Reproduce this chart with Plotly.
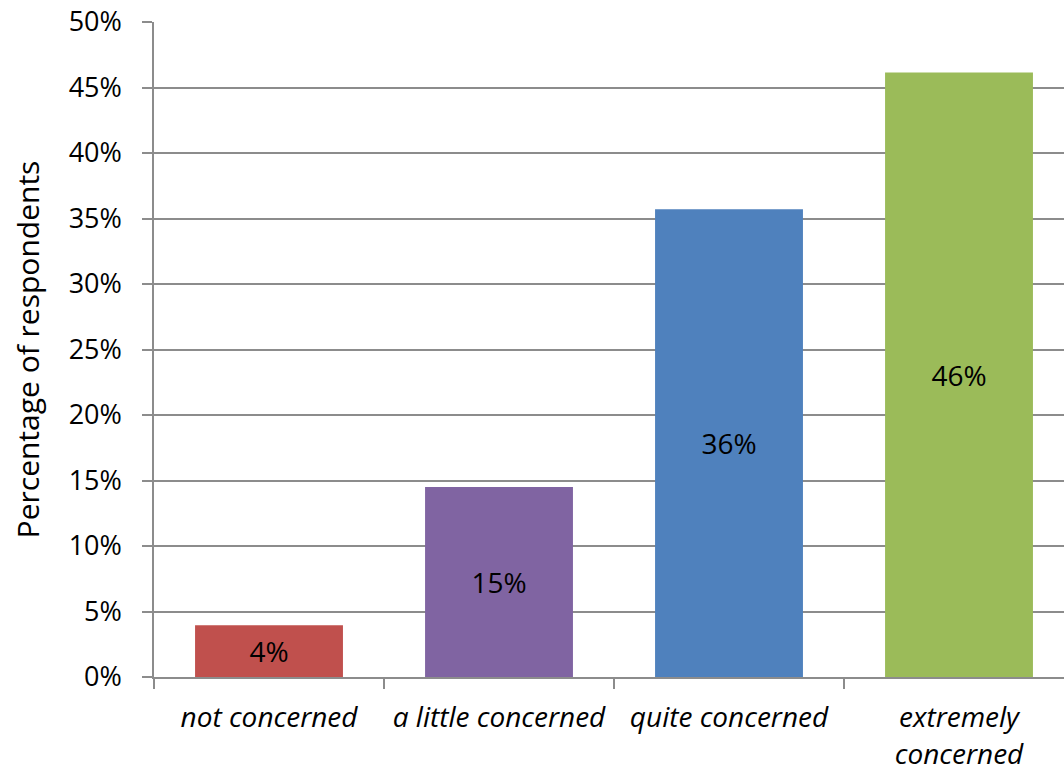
import plotly.graph_objects as go

categories = ["not concerned", "a little concerned", "quite concerned", "extremely<br>concerned"]
values = [3.95, 14.5, 35.7, 46.15]
value_labels = ["4%", "15%", "36%", "46%"]
colors = ["#C0504D", "#8064A2", "#4F81BD", "#9BBB59"]
y_title = "Percentage of respondents"

FONT = "Open Sans"
GRID = "#8c8c8c"

fig = go.Figure(
    go.Bar(
        x=categories,
        y=values,
        marker=dict(color=colors, line=dict(width=0)),
        width=0.643,
        text=value_labels,
        textposition="inside",
        insidetextanchor="middle",
        textangle=0,
        textfont=dict(family=FONT, size=28, color="black"),
        hoverinfo="skip",
    )
)

fig.update_layout(
    width=1064,
    height=771,
    margin=dict(l=154, r=0, t=22, b=94, autoexpand=False),
    paper_bgcolor="white",
    plot_bgcolor="white",
    showlegend=False,
    font=dict(family=FONT, size=28, color="black"),
    uniformtext=dict(mode=False),
)

fig.update_xaxes(
    type="category",
    range=[-0.5, 3.4565],
    tickson="boundaries",
    ticks="outside",
    ticklen=10,
    tickwidth=1.5,
    tickcolor=GRID,
    showline=True,
    linecolor=GRID,
    linewidth=1.5,
    showgrid=False,
    tickangle=0,
    automargin=False,
    tickfont=dict(family=FONT, size=28, color="black", style="italic"),
    ticklabelstandoff=15,
)

fig.update_yaxes(
    range=[0, 50],
    dtick=5,
    tick0=0,
    ticksuffix="%",
    ticks="outside",
    ticklen=10,
    tickwidth=1.5,
    tickcolor=GRID,
    showline=True,
    linecolor=GRID,
    linewidth=1.5,
    showgrid=True,
    gridcolor=GRID,
    gridwidth=1.5,
    zeroline=False,
    automargin=False,
    tickfont=dict(family=FONT, size=27, color="black"),
    ticklabelstandoff=15,
    title=dict(text=y_title, font=dict(family=FONT, size=30, color="black"), standoff=20),
)

fig.write_html("out.html")
